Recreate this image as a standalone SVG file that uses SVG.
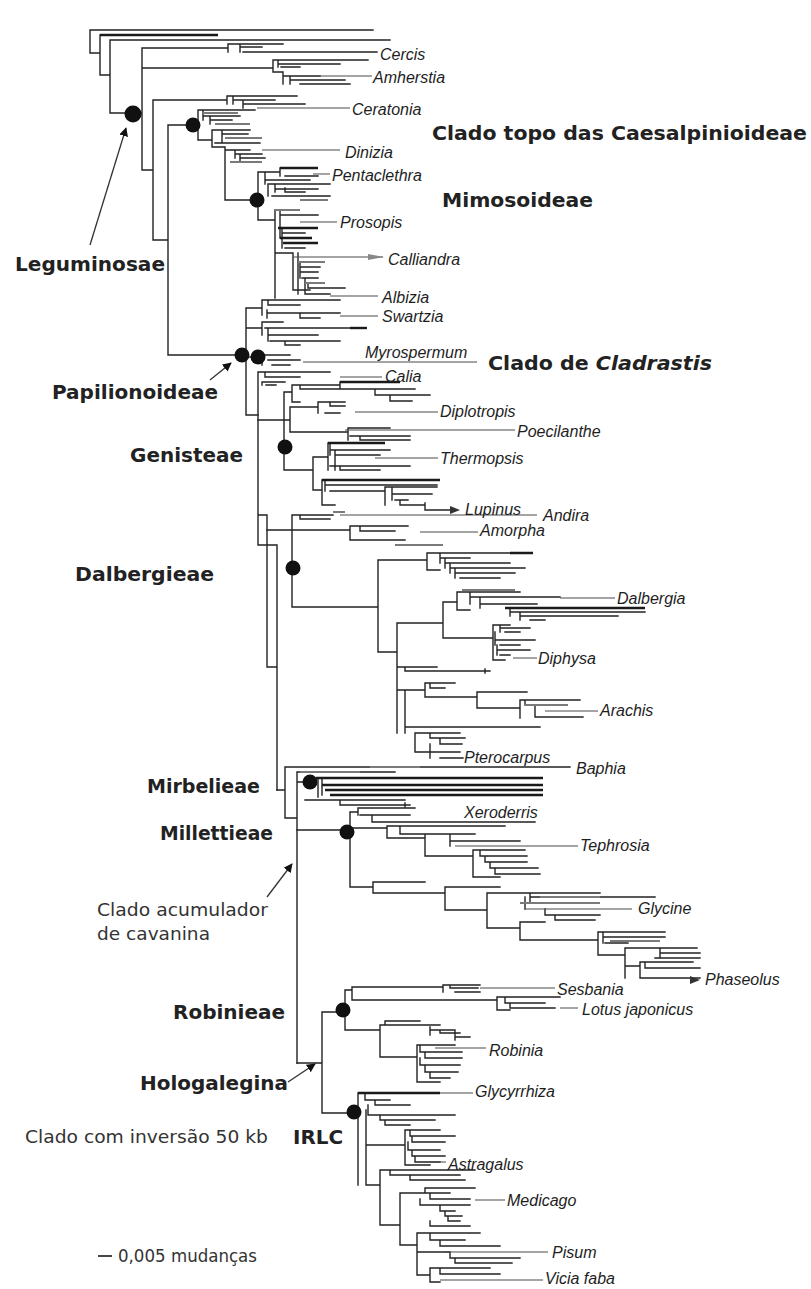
<svg xmlns="http://www.w3.org/2000/svg" width="811" height="1289" viewBox="0 0 811 1289">
<defs>
<style>
.br{fill:none;stroke:#222;stroke-width:1.4;stroke-linecap:square}
.bk{fill:none;stroke:#1a1a1a;stroke-width:2.4}
.gr{fill:none;stroke:#7a7a7a;stroke-width:2.2}
.ld{fill:none;stroke:#4a4a4a;stroke-width:1.1}
.ar{fill:none;stroke:#333;stroke-width:1.3}
.dot{fill:#111}
.tx{font-family:"Liberation Sans",Arial,sans-serif;font-style:italic;font-size:16px;fill:#1e1e1e}
.cl{font-family:"DejaVu Sans","Liberation Sans",sans-serif;font-weight:bold;font-size:20px;fill:#222}
.rg{font-family:"DejaVu Sans","Liberation Sans",sans-serif;font-size:18px;fill:#333}
</style>
<marker id="ah" viewBox="0 0 10 10" refX="9" refY="5" markerWidth="9" markerHeight="9" markerUnits="userSpaceOnUse" orient="auto">
<path d="M0 0L10 5L0 10z" fill="#111"/>
</marker>
</defs>
<rect width="811" height="1289" fill="#ffffff"/>

<g id="connectors">
<!-- root and Caesalpinioideae -->
<path class="br" d="M90 30H373M90 30V53H100V35M100 53V75H110M110 40V113H126M110 40H390
M133 113H142M142 48V170M142 48H228M228 44V52M228 44H283M240 47H262M240 44V52M243 52H377
M142 68H273M273 60V72M273 60H368M278 64H340M278 60V67M281 67H300M273 72H283V84M283 76H320M290 80H345M290 76V84M300 84H350
M142 170H153M153 100V240M153 100H227M227 96V104M227 96H297M233 100H275M233 96V104M243 104H305M243 100V108
M153 240H168M168 125V355M168 125H186M168 355H235"/>
<path class="bk" d="M100 35H218"/>
<path class="ld" d="M320 76H372M257 108H350"/>
<!-- Clado topo -->
<path class="br" d="M198 110V140M198 110H255M203 110V120M203 116H240M210 116V124M210 120H232M198 140H212M212 130V147M212 130H250M222 130V143M222 134H248M215 143H260
M212 147H225M225 147V200M225 200H250M225 150H250M235 150V158M235 154H262M240 154V162M240 158H265"/>
<path class="gr" d="M215 124H250M225 138H262M203 113H238M230 162H262"/>
<path class="ld" d="M262 150H340"/>
<!-- Mimosoideae -->
<path class="br" d="M258 172V220M258 172H280M280 168V176M285 176H318M265 180H310M265 172V184M268 184V196M268 184H330M275 184V192M275 189H318M272 196H330M285 192H305M285 188V192
M258 220H275M275 210V298M280 215H318M280 210V238M282 233H305M282 228V248M285 248H305M275 253H293M293 253V290M298 253V294M300 267H320M300 262V278M302 278H318M305 278V294M308 288H345M308 283V288M293 290H310M305 294H330M300 272H318"/>
<path class="bk" d="M280 168H318M278 228H318M280 238H312M283 243H318"/>
<path class="gr" d="M275 210H300M298 262H325M305 283H325M300 200H328"/>
<path class="ld" d="M313 174H330M300 222H337M293 257H383M330 296H378"/>
<path d="M368 254L384 257L368 260z" fill="#888"/>
<!-- Papilionoideae base -->
<path class="br" d="M246 308V415M246 308H262M262 300V315M262 300H340M268 305H300M268 300V305M267 310V318M267 313H340M300 318H320M300 313V318
M246 328H262M262 322V335M262 322H283M265 328H350M268 335H318M268 328V341M270 341H340M285 345H300M285 341V345
M250 357H257M262 355H290M262 355V365M268 360H300M272 365H290M246 415H258"/>
<path class="bk" d="M350 328H367"/>
<path class="ld" d="M340 316H378M303 362H477"/>
<!-- backbone -->
<path class="br" d="M258 372V545M258 372H330M265 377H300M265 372V377M262 382H285M266 385H276M262 382V385
M258 545H277M277 545V790M267 515V667M267 667H277M258 515H267"/>
<path class="ld" d="M340 377H382"/>
<!-- Genisteae -->
<path class="br" d="M258 420H284M284 392V470M284 392H292M292 385V402M292 385H340M300 389H415M300 385V389M340 382V389M375 389V395M375 395H430M390 395V401M390 401H412M292 402H300
M284 420H290M290 407V432M290 407H318M318 402V413M318 402H345M330 402V406M330 406H345M325 413H340M290 432H348M348 428V440M348 428H390M350 436H410M360 436V440M360 440H410
M284 470H313M313 457V490M313 457H328M328 443V470M330 450H390M330 443V455M335 455H380M335 450V470M330 466H410M340 470H380M340 466V470
M313 490H322M322 480V505M325 485H437M325 480V491M330 491H385M385 487V505M385 487H437M392 494H432M392 487V500M395 500H408M400 505H425M400 500V505M425 503V510M425 510H450M322 505H335"/>
<path class="bk" d="M340 382H400M328 443H385M322 480H440"/>
<path class="ld" d="M355 412H438M345 430H515M375 458H438"/>
<path d="M450 506L460 510L450 514z" fill="#333"/>
<!-- Dalbergieae -->
<path class="br" d="M267 530H292M292 515V607M292 515H333M300 519H330M300 515V519M292 530H350M350 526V540M350 526H408M360 531H395M360 526V531M350 540H405
M292 607H378M378 560V652M378 560H427M427 553V570M427 553H510M440 558H470M440 553V563M445 563H510M445 558V568M450 568H525M450 563V573M455 573H515M455 568V578M460 578H500M427 570H440
M378 652H397M397 623V733M397 623H443M443 602V638M443 602H457M457 592V610M457 592H520M470 597H560M470 592V604M480 604H537M480 597V608M510 612H645M510 608V616M520 616H618M520 612V620M530 620H545M457 610H470
M443 638H493M493 625V660M493 625H510M500 628H530M500 625V632M505 632H520M495 640H535M495 632V645M500 645H520M497 650H530M497 645V655M500 655H510M493 660H505
M397 667H437M405 671H490M405 667V671M485 669V673M397 690H425M405 690V733M425 683V697M425 683H455M430 688H445M430 683V688M425 697H477M477 692V708M477 692H527M477 708H520M520 700V718M520 700H580M525 700V705M535 717H583M535 705V717
M405 727H540M415 733V752M415 733H460M430 738H465M430 733V738M440 744H462M440 738V744M430 752H460M440 758H463M430 744V758M415 752H430"/>
<path class="bk" d="M510 553H533M505 608H645"/>
<path class="gr" d="M395 545H443M525 705H568M333 512H345M462 590H515"/>
<path class="ld" d="M340 515H537M420 532H478M560 598H615M513 658H537M545 711H598"/>
<!-- Mirbelieae / Baphia -->
<path class="br" d="M277 790H285M285 767V818M285 767H570M285 818H297M297 772V1063M297 772H395
M297 782H303M318 778V797M305 800H405M340 805H410M340 800V805M405 803V807M322 778V795"/>
<path class="bk" d="M316 778H543M322 785H543M325 790H543M330 795H543"/>
<path class="gr" d="M370 767H420M300 772H360"/>
<!-- Millettieae -->
<path class="br" d="M297 830H340M350 812V887M350 812H358M358 808H415M358 808V815M360 815H410M372 822H535M372 815V822
M350 828H387M387 826V838M387 826H505M400 834H465M400 826V834M387 838H425M425 834V856M425 834H475M450 841H520M450 834V846M425 856H473M473 850V877M473 850H525M480 856H527M480 850V856M485 862H527M485 856V862M490 868H538M490 862V868M495 874H540M495 868V874M473 877H500
M350 887H373M373 882V893M373 882H425M373 893H445M445 887V910M445 887H500M445 910H487M487 893V928M487 893H600M530 897H655M530 893V903M545 915H600M545 909V915M555 920H595M555 915V920M525 897V909
M487 928H520M520 922V940M520 922H545M520 940H598M598 932V955M598 932H665M603 937H665M603 932V943M605 943H628M598 955H625M625 948V978M625 948H697M660 953H700M660 948V958M655 958H700M625 966H640M640 962V978M640 962H693M645 968H700M645 962V968M640 978H700"/>
<path class="gr" d="M520 903H600M540 897H600M610 941H660"/>
<path class="ld" d="M455 846H578M525 909H632"/>
<path d="M690 976L700 980L690 984z" fill="#333"/>
<!-- Robinieae -->
<path class="br" d="M297 1063H322M322 1012V1113M322 1012H336M322 1113H347
M345 990V1030M345 990H352M352 987V1000M352 987H443M443 985V992M443 985H480M450 988H478M450 985V988M455 992H480M352 1000H497M497 997V1010M497 997H560M505 1003H545M505 997V1003M510 1008H555M510 1003V1008M497 1010H510
M345 1030H380M380 1025V1057M380 1025H440M385 1021H420M385 1021V1025M430 1027V1035M430 1030H455M455 1030V1040M455 1037H470M440 1033H460M440 1030V1033
M380 1057H417M417 1045V1082M417 1045H455M420 1052H462M420 1045V1052M425 1058H462M425 1052V1058M420 1065H460M420 1058V1065M425 1072H458M425 1065V1072M430 1078H450M430 1072V1078M417 1082H440"/>
<path class="ld" d="M480 988H555M560 1008H578M435 1048H486M440 1093H473"/>
<!-- IRLC -->
<path class="br" d="M358 1093V1185M365 1100H390M365 1093V1100M375 1105H410M375 1100V1105M368 1115H455M368 1105V1115M380 1120H435M380 1115V1120M385 1125H410M385 1120V1125
M366 1110V1185M366 1145H405M405 1130V1165M405 1130H440M410 1136H455M410 1130V1136M412 1142H445M412 1136V1142M408 1150H440M412 1156H445M408 1142V1150M412 1150V1156M415 1162H440M415 1156V1162M405 1165H430
M366 1185H380M380 1170V1225M380 1170H475M390 1175H460M390 1170V1175M410 1180H465M410 1175V1180
M380 1225H400M400 1193V1245M400 1193H450M425 1188H475M425 1188V1193M430 1199H470M430 1193V1199M420 1205H470M420 1199V1205M440 1211H455M440 1205V1211M445 1216H462M445 1211V1216M448 1221H460M448 1216V1221M430 1226H470M430 1221V1226
M400 1245H417M417 1233V1275M417 1233H480M430 1240H465M430 1233V1240M440 1246H500M440 1240V1246M450 1258H520M450 1252V1258M455 1263H512M455 1258V1263M417 1275H430M430 1268V1282M430 1268H490M440 1274H500M440 1268V1274M430 1282H440M417 1252H450"/>
<path class="bk" d="M358 1093H440"/>
<path class="ld" d="M430 1162H446M475 1200H505M445 1252H548M440 1280H543"/>
<!-- annotation arrows -->
<path class="ar" d="M90 245L126 128" marker-end="url(#ah)"/>
<path class="ar" d="M210 380L231 363" marker-end="url(#ah)"/>
<path class="ar" d="M267 897L292 864" marker-end="url(#ah)"/>
<path class="ar" d="M288 1082L315 1064" marker-end="url(#ah)"/>
<!-- scale bar -->
<path d="M98 1256H112" stroke="#333" stroke-width="1.8"/>
</g>

<g id="node-leguminosae"><circle class="dot" cx="133" cy="114" r="8.5"/><text class="cl" x="15" y="271" textLength="150" lengthAdjust="spacingAndGlyphs">Leguminosae</text></g>
<g id="node-caesalpinioideae"><circle class="dot" cx="193" cy="125" r="7.5"/><text class="cl" x="432" y="140" textLength="375" lengthAdjust="spacingAndGlyphs">Clado topo das Caesalpinioideae</text></g>
<g id="node-mimosoideae"><circle class="dot" cx="257" cy="200" r="7.5"/><text class="cl" x="442" y="207" textLength="151" lengthAdjust="spacingAndGlyphs">Mimosoideae</text></g>
<g id="node-papilionoideae"><circle class="dot" cx="242" cy="355" r="7.5"/><text class="cl" x="52" y="399" textLength="166" lengthAdjust="spacingAndGlyphs">Papilionoideae</text></g>
<g id="node-cladrastis"><circle class="dot" cx="258" cy="357" r="7.5"/><text class="cl" x="488" y="370" textLength="224" lengthAdjust="spacingAndGlyphs">Clado de <tspan font-style="italic">Cladrastis</tspan></text></g>
<g id="node-genisteae"><circle class="dot" cx="285" cy="447" r="7.5"/><text class="cl" x="130" y="462" textLength="113" lengthAdjust="spacingAndGlyphs">Genisteae</text></g>
<g id="node-dalbergieae"><circle class="dot" cx="293" cy="568" r="7.5"/><text class="cl" x="75" y="581" textLength="139" lengthAdjust="spacingAndGlyphs">Dalbergieae</text></g>
<g id="node-mirbelieae"><circle class="dot" cx="310" cy="782" r="7.5"/><text class="cl" x="147" y="793" textLength="113" lengthAdjust="spacingAndGlyphs">Mirbelieae</text></g>
<g id="node-millettieae"><circle class="dot" cx="347" cy="832" r="7.5"/><text class="cl" x="160" y="840" textLength="113" lengthAdjust="spacingAndGlyphs">Millettieae</text></g>
<g id="node-cavanina"><text class="rg" x="97" y="916" textLength="171" lengthAdjust="spacingAndGlyphs">Clado acumulador</text><text class="rg" x="97" y="940" textLength="113" lengthAdjust="spacingAndGlyphs">de cavanina</text></g>
<g id="node-robinieae"><circle class="dot" cx="343" cy="1010" r="7.5"/><text class="cl" x="173" y="1019" textLength="112" lengthAdjust="spacingAndGlyphs">Robinieae</text></g>
<g id="node-hologalegina"><text class="cl" x="140" y="1090" textLength="148" lengthAdjust="spacingAndGlyphs">Hologalegina</text></g>
<g id="node-irlc"><circle class="dot" cx="354" cy="1112" r="7.5"/><text class="rg" x="25" y="1143" textLength="243" lengthAdjust="spacingAndGlyphs">Clado com inversão 50 kb</text><text class="cl" x="293" y="1144" textLength="50" lengthAdjust="spacingAndGlyphs">IRLC</text></g>
<g id="scale"><text class="rg" x="118" y="1262" textLength="139" lengthAdjust="spacingAndGlyphs">0,005 mudanças</text></g>

<g id="taxa">
<text class="tx" x="380" y="60">Cercis</text>
<text class="tx" x="373" y="83">Amherstia</text>
<text class="tx" x="352" y="115">Ceratonia</text>
<text class="tx" x="345" y="158">Dinizia</text>
<text class="tx" x="332" y="181">Pentaclethra</text>
<text class="tx" x="340" y="228">Prosopis</text>
<text class="tx" x="388" y="265">Calliandra</text>
<text class="tx" x="382" y="303">Albizia</text>
<text class="tx" x="382" y="322">Swartzia</text>
<text class="tx" x="365" y="358">Myrospermum</text>
<text class="tx" x="385" y="382">Calia</text>
<text class="tx" x="440" y="417">Diplotropis</text>
<text class="tx" x="517" y="437">Poecilanthe</text>
<text class="tx" x="440" y="464">Thermopsis</text>
<text class="tx" x="465" y="515">Lupinus</text>
<text class="tx" x="543" y="521">Andira</text>
<text class="tx" x="480" y="536">Amorpha</text>
<text class="tx" x="617" y="604">Dalbergia</text>
<text class="tx" x="538" y="664">Diphysa</text>
<text class="tx" x="600" y="716">Arachis</text>
<text class="tx" x="464" y="763">Pterocarpus</text>
<text class="tx" x="576" y="774">Baphia</text>
<text class="tx" x="464" y="818">Xeroderris</text>
<text class="tx" x="580" y="851">Tephrosia</text>
<text class="tx" x="638" y="914">Glycine</text>
<text class="tx" x="705" y="985">Phaseolus</text>
<text class="tx" x="557" y="995">Sesbania</text>
<text class="tx" x="582" y="1015">Lotus japonicus</text>
<text class="tx" x="489" y="1056">Robinia</text>
<text class="tx" x="475" y="1097">Glycyrrhiza</text>
<text class="tx" x="448" y="1170">Astragalus</text>
<text class="tx" x="507" y="1206">Medicago</text>
<text class="tx" x="552" y="1258">Pisum</text>
<text class="tx" x="545" y="1284">Vicia faba</text>
</g>
</svg>
